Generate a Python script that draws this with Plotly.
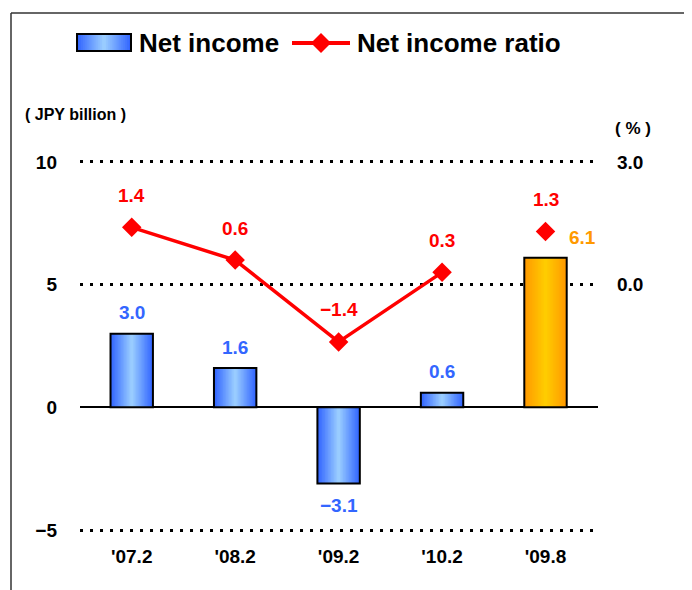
import plotly.graph_objects as go

periodi = ["'07.2", "'08.2", "'09.2", "'10.2", "'09.8"]
utile_netto = [3.0, 1.6, -3.1, 0.6, 6.1]
margine_netto = [1.4, 0.6, -1.4, 0.3, 1.3]
etichette_sx = ["\u22125", "0", "5", "10"]
valori_sx = [-5, 0, 5, 10]
valori_dx = [0.0, 3.0]

BLU_BORDO, BLU_CENTRO = (0x33, 0x66, 0xFF), (0x99, 0xCC, 0xFF)
ARA_BORDO, ARA_CENTRO = (0xFF, 0x99, 0x00), (0xFF, 0xCC, 0x00)
ROSSO = "#FF0000"
FONT = "Liberation Sans, Arial, sans-serif"
LARGHEZZA = 0.41
STRATI = 14

# Area del grafico in pixel (per legenda e cornice disegnate a mano).
# La pagina aggiunge 8 px di margine: le coordinate dello screenshot vanno scalate di OFF.
OFF = 8
M_SX, M_DX, M_SU, M_GIU = 72, 102, 149, 63
W, H = 692, 590
PW, PH = W - M_SX - M_DX, H - M_SU - M_GIU


def mix(a, b, t):
    return "rgb({},{},{})".format(*[round(a[k] + (b[k] - a[k]) * t) for k in range(3)])


def px(x):
    return (x - OFF - M_SX) / PW


def py(y):
    return (H - M_GIU - (y - OFF)) / PH


fig = go.Figure()

# Barre con sfumatura orizzontale: strati sovrapposti sempre più stretti.
for i in range(STRATI):
    t = i / (STRATI - 1)
    colori = [mix(BLU_BORDO, BLU_CENTRO, t)] * 4 + [mix(ARA_BORDO, ARA_CENTRO, t)]
    fig.add_trace(
        go.Bar(
            x=periodi,
            y=utile_netto,
            width=LARGHEZZA * (1 - i / STRATI),
            marker=dict(color=colori, line=dict(width=0)),
            showlegend=False,
            hoverinfo="skip",
        )
    )

# Contorno nero sopra le sfumature.
fig.add_trace(
    go.Bar(
        x=periodi,
        y=utile_netto,
        width=LARGHEZZA,
        marker=dict(color="rgba(0,0,0,0)", line=dict(color="black", width=2)),
        showlegend=False,
    )
)

# Margine netto: linea sui primi quattro periodi, punto isolato per '09.8.
fig.add_trace(
    go.Scatter(
        x=periodi[:4],
        y=margine_netto[:4],
        mode="lines+markers",
        line=dict(color=ROSSO, width=3.5),
        marker=dict(symbol="diamond", size=15, color=ROSSO),
        yaxis="y2",
        showlegend=False,
    )
)
fig.add_trace(
    go.Scatter(
        x=periodi[4:],
        y=margine_netto[4:],
        mode="markers",
        marker=dict(symbol="diamond", size=15, color=ROSSO),
        yaxis="y2",
        showlegend=False,
    )
)

# Etichette dei valori.
for p, v in zip(periodi[:4], utile_netto[:4]):
    fig.add_annotation(
        x=p, y=v, text=f"{v:.1f}".replace("-", "\u2212"), showarrow=False,
        yshift=21 if v >= 0 else -22,
        font=dict(family=FONT, size=19, color="#3366FF", weight="bold"),
    )
fig.add_annotation(
    x=periodi[4], y=utile_netto[4], text=f"{utile_netto[4]:.1f}", showarrow=False,
    xshift=37, yshift=20,
    font=dict(family=FONT, size=19, color="#FF9900", weight="bold"),
)
for p, v in zip(periodi, margine_netto):
    fig.add_annotation(
        x=p, y=v, yref="y2", text=f"{v:.1f}".replace("-", "\u2212"), showarrow=False,
        yshift=32,
        font=dict(family=FONT, size=19, color=ROSSO, weight="bold"),
    )

# Unità degli assi.
fig.add_annotation(
    x=px(23), y=py(115), xref="paper", yref="paper", xanchor="left", yanchor="middle",
    text="( JPY billion )", showarrow=False,
    font=dict(family=FONT, size=16, color="black", weight="bold"),
)
fig.add_annotation(
    x=px(633), y=py(128), xref="paper", yref="paper", xanchor="center", yanchor="middle",
    text="( % )", showarrow=False,
    font=dict(family=FONT, size=17, color="black", weight="bold"),
)

# Legenda disegnata a mano: campione sfumato + linea con rombo.
SW_X0, SW_X1, SW_Y0, SW_Y1 = 77, 131, 34, 51
for i in range(STRATI):
    t = i / (STRATI - 1)
    rientro = (SW_X1 - SW_X0) / 2 * i / STRATI
    fig.add_shape(type="rect", xref="paper", yref="paper",
                  x0=px(SW_X0 + rientro), x1=px(SW_X1 - rientro), y0=py(SW_Y1), y1=py(SW_Y0),
                  fillcolor=mix(BLU_BORDO, BLU_CENTRO, t), line=dict(width=0), layer="above")
fig.add_shape(type="rect", xref="paper", yref="paper",
              x0=px(SW_X0), x1=px(SW_X1), y0=py(SW_Y1), y1=py(SW_Y0),
              line=dict(color="black", width=2), layer="above")
fig.add_annotation(x=px(137), y=py(43), xref="paper", yref="paper", xanchor="left", yanchor="middle",
                   text="Net income", showarrow=False,
                   font=dict(family=FONT, size=26, color="black", weight="bold"))
fig.add_shape(type="line", xref="paper", yref="paper", x0=px(292), x1=px(350), y0=py(43), y1=py(43),
              line=dict(color=ROSSO, width=4), layer="above")
fig.add_shape(type="path", xref="paper", yref="paper", xsizemode="pixel", ysizemode="pixel",
              xanchor=px(321), yanchor=py(43), path="M -10 0 L 0 10 L 10 0 L 0 -10 Z",
              fillcolor=ROSSO, line=dict(width=0), layer="above")
fig.add_annotation(x=px(355), y=py(43), xref="paper", yref="paper", xanchor="left", yanchor="middle",
                   text="Net income ratio", showarrow=False,
                   font=dict(family=FONT, size=26, color="black", weight="bold"))

# Cornice a sinistra e in alto.
fig.add_shape(type="line", xref="paper", yref="paper", x0=px(11), x1=px(11), y0=py(610), y1=py(13),
              line=dict(color="#333333", width=1.5))
fig.add_shape(type="line", xref="paper", yref="paper", x0=px(11), x1=px(710), y0=py(13), y1=py(13),
              line=dict(color="#333333", width=1.5))

fig.update_layout(
    width=W,
    height=H,
    margin=dict(l=M_SX, r=M_DX, t=M_SU, b=M_GIU, autoexpand=False),
    paper_bgcolor="white",
    plot_bgcolor="white",
    barmode="overlay",
    showlegend=False,
    font=dict(family=FONT, color="black"),
    xaxis=dict(
        showline=False, showgrid=False, ticks="", ticklabelstandoff=8,
        tickfont=dict(family=FONT, size=19, weight="bold"),
    ),
    yaxis=dict(
        range=[-5.2, 10.2], tickvals=valori_sx, ticktext=etichette_sx,
        showgrid=True, gridcolor="black", gridwidth=3, griddash="3px,7px",
        zeroline=True, zerolinecolor="black", zerolinewidth=2,
        showline=False, ticks="", ticklabelstandoff=22,
        tickfont=dict(family=FONT, size=19, weight="bold"),
    ),
    yaxis2=dict(
        range=[-6.12, 3.12], tickvals=valori_dx, tickformat=".1f",
        overlaying="y", side="right", showgrid=False, zeroline=False,
        showline=False, ticks="", ticklabelstandoff=18,
        tickfont=dict(family=FONT, size=19, weight="bold"),
    ),
)

fig.write_html("out.html")
